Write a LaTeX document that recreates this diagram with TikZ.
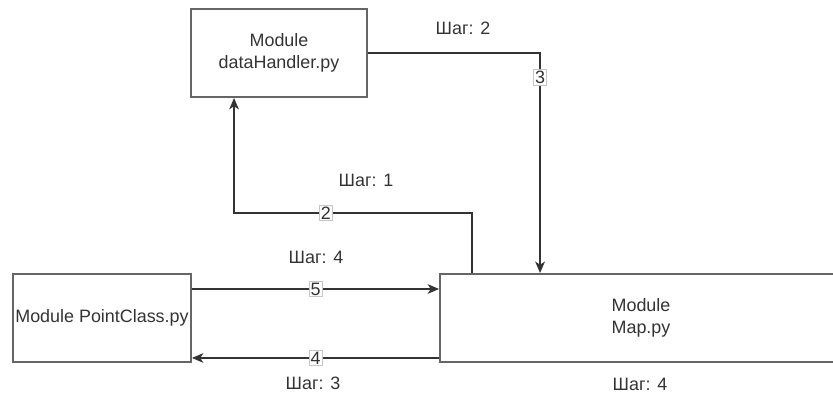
\documentclass[tikz,border=0pt]{standalone}
\usepackage{fontspec}
\setmainfont{Liberation Sans}
\usepackage{tikz}
\usetikzlibrary{arrows.meta, positioning, calc}

\definecolor{boxgray}{HTML}{666666}
\definecolor{linegray}{HTML}{333333}
\definecolor{textgray}{HTML}{333333}

\begin{document}
\begin{tikzpicture}[x=0.02cm, y=-0.02cm, font=\fontsize{10.2}{12.5}\selectfont, text=textgray]
		\tikzstyle{module} = [rectangle, draw=boxgray, line width=1.1pt, minimum height=1.76cm, inner sep=0, align=center]
		\tikzstyle{step_line} = [-{Stealth[length=6.5pt, width=5.5pt, inset=1.8pt]}, draw=linegray, line width=0.8pt]
		\tikzstyle{num} = [rectangle, fill=white, draw=gray!45, line width=0.3pt, inner sep=0.8pt]
		\tikzstyle{steptext} = [inner sep=0]

		\useasboundingbox (0,0) rectangle (833,394);

		% Modules
		\node[module, minimum width=3.52cm](handler) at (279, 53) {Module\\dataHandler.py};
		\node[module, minimum width=3.56cm](point) at (102, 318) {Module PointClass.py};
		\node[module, minimum width=8.04cm](map) at (641, 318) {Module\\Map.py};

		% Steps
		\node[steptext](step_a) at (366, 180) {Шаг: 1};
		\node[steptext](step_b) at (463, 28) {Шаг: 2};
		\node[steptext](step_c) at (313, 383) {Шаг: 3};
		\node[steptext](step_d) at (316, 257) {Шаг: 4};
		\node[steptext](step_e) at (640, 384) {Шаг: 4};

		% Map -> dataHandler
		\draw[step_line] ([xshift=0.66cm]map.north west) |- node[num, pos=0.807]{2} ($(handler.south west)+(0.88cm,-2.3cm)$) -- ([xshift=0.88cm]handler.south west);

		% dataHandler -> Map
		\draw[step_line] (handler.east) -| node[num, pos=0.555]{3} ([xshift=2.02cm]map.north west);

		% PointClass <-> Map
		\draw[step_line] ([yshift=0.58cm]point.east) -- node[num]{5} ([yshift=0.58cm]point.east -| map.west);
		\draw[step_line] ([yshift=-0.8cm]map.west) -- node[num]{4} ([yshift=-0.8cm]map.west -| point.east);

	\end{tikzpicture}
\end{document}
